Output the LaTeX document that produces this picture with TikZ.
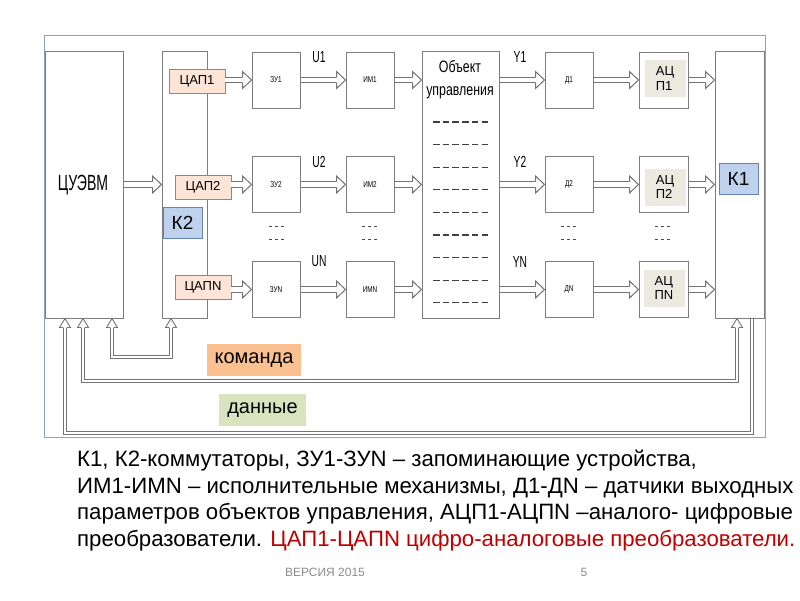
\documentclass[tikz,border=0pt]{standalone}
\usepackage{fontspec}
\setmainfont{Liberation Sans}
\newfontfamily\narrowfont[FakeStretch=0.75]{Liberation Sans}
\newfontfamily\xnarrowfont[FakeStretch=0.64]{Liberation Sans}
\definecolor{framecol}{RGB}{140,160,192}
\definecolor{boxline}{RGB}{125,125,125}
\definecolor{arrline}{RGB}{115,115,115}
\definecolor{dacfill}{RGB}{252,228,214}
\definecolor{dacline}{RGB}{120,140,170}
\definecolor{kfill}{RGB}{190,210,238}
\definecolor{kline}{RGB}{100,130,175}
\definecolor{adcfill}{RGB}{236,234,224}
\definecolor{cmdfill}{RGB}{250,192,144}
\definecolor{datfill}{RGB}{215,228,189}
\definecolor{redtext}{RGB}{192,0,0}
\definecolor{footcol}{RGB}{140,140,140}
\tikzset{
  blk/.style={draw=boxline, line width=1pt, fill=white, inner sep=0pt},
  smalllbl/.style={font=\narrowfont\fontsize{8.5}{10}\selectfont},
  daclbl/.style={draw=dacline, line width=0.8pt, fill=dacfill, inner sep=0pt,
    minimum width=56pt, minimum height=24pt, font=\fontsize{13}{15}\selectfont},
  klbl/.style={draw=kline, line width=0.8pt, fill=kfill, inner sep=0pt,
    minimum width=39pt, minimum height=31pt, font=\fontsize{19}{21}\selectfont},
  adclbl/.style={fill=adcfill, inner sep=0pt, minimum width=41pt, minimum height=37pt,
    align=left, font=\fontsize{13}{14.5}\selectfont},
  rowlbl/.style={font=\xnarrowfont\fontsize{16}{18}\selectfont},
  harr/.style={draw=arrline, line width=1pt, double=white, double distance=4.8pt, shorten >=9pt},
  bus/.style={draw=arrline, line width=0.9pt, double=white, double distance=2.4pt},
  objdash/.style={draw=black!75, line width=1.1pt, dash pattern=on 6.5pt off 3.2pt},
  dotdash/.style={draw=black!70, line width=1pt, dash pattern=on 3pt off 3pt},
  infolbl/.style={inner sep=0pt, minimum height=32pt, font=\fontsize{20}{22}\selectfont},
  bodytext/.style={anchor=base west, inner sep=0pt, font=\fontsize{22.2}{26}\selectfont},
  foottext/.style={text=footcol, font=\fontsize{12}{14}\selectfont},
  rhead/.pic={\draw[draw=arrline, line width=1pt, fill=white]
    (-9,-2.9) -- (-9,-8.5) -- (0,0) -- (-9,8.5) -- (-9,2.9);},
  uhead/.pic={\draw[draw=arrline, line width=0.9pt, fill=white]
    (-1.65,9) -- (-5.5,9) -- (0,0) -- (5.5,9) -- (1.65,9);}
}
\begin{document}
\begin{tikzpicture}[x=1pt, y=-1pt]
\useasboundingbox (0,0) rectangle (800,600);
\fill[white] (0,0) rectangle (800,600);
\draw[framecol, line width=1pt] (44,35) rectangle (765,437);

% main blocks
\node[blk, minimum width=78pt, minimum height=267pt] (cuevm) at (84,184.5) {};
\node[font=\xnarrowfont\fontsize{22}{24}\selectfont] (cuevmtxt) at (83,185) {ЦУЭВМ};
\node[blk, minimum width=45pt, minimum height=267pt] (k2) at (184.5,184.5) {};
\node[blk, minimum width=77pt, minimum height=267pt] (obj) at (460.5,184.5) {};
\node[blk, minimum width=49pt, minimum height=267pt] (k1) at (739.5,184.5) {};

\node[align=center, font=\narrowfont\fontsize{16.5}{23}\selectfont] (objtxt) at (460,80) {Объект\\управления};
\foreach \yy in {122,144.6,167.2,189.8,212.4,235,257.6,280.2,302.8}
  \draw[objdash] (433,\yy) -- (489,\yy);

% DAC labels on K2
\node[daclbl] (dac1) at (197,81) {ЦАП1};
\node[daclbl] (dac2) at (203,187) {ЦАП2};
\node[daclbl] (dacN) at (203,287.5) {ЦАПN};
\node[klbl] (k2lbl) at (182.5,222.5) {К2};
\node[klbl] (k1lbl) at (738.5,178.5) {К1};

% rows
\foreach \r/\yy in {1/80,2/184.5,N/289.5}{
  \node[blk, minimum width=48pt, minimum height=56pt, smalllbl] (zu\r) at (276,\yy) {ЗУ\r};
  \node[blk, minimum width=48pt, minimum height=56pt, smalllbl] (im\r) at (370,\yy) {ИМ\r};
  \node[blk, minimum width=48pt, minimum height=56pt, smalllbl] (d\r) at (569,\yy) {Д\r};
  \node[blk, minimum width=49pt, minimum height=56pt] (adc\r) at (663.5,\yy) {};
}
\node[adclbl] (adc1lbl) at (665,78.5) {АЦ\\П1};
\node[adclbl] (adc2lbl) at (665,187) {АЦ\\П2};
\node[adclbl] (adcNlbl) at (664,288) {АЦ\\ПN};

% row labels
\node[rowlbl] (u1) at (319,57) {U1};
\node[rowlbl] (u2) at (319,161.5) {U2};
\node[rowlbl] (uN) at (319,261) {UN};
\node[rowlbl] (y1) at (520,57) {Y1};
\node[rowlbl] (y2) at (520,161.5) {Y2};
\node[rowlbl] (yN) at (520,262) {YN};

% dots between rows
\foreach \xx in {277,370,569,663}{
  \draw[dotdash] (\xx-8,226) -- (\xx+7,226);
  \draw[dotdash] (\xx-8,239) -- (\xx+7,239);
}

% arrows
\draw[harr] (cuevm.east) -- (k2.west); \pic at (k2.west) {rhead};
\foreach \r in {1,2,N}{
  \draw[harr] (zu\r.west -| dac\r.east) -- (zu\r.west); \pic at (zu\r.west) {rhead};
  \draw[harr] (zu\r.east) -- (im\r.west); \pic at (im\r.west) {rhead};
  \draw[harr] (im\r.east) -- (im\r.east -| obj.west); \pic at (im\r.east -| obj.west) {rhead};
  \draw[harr] (d\r.west -| obj.east) -- (d\r.west); \pic at (d\r.west) {rhead};
  \draw[harr] (d\r.east) -- (adc\r.west); \pic at (adc\r.west) {rhead};
  \draw[harr] (adc\r.east) -- (adc\r.east -| k1.west); \pic at (adc\r.east -| k1.west) {rhead};
}

% buses
\coordinate (kb1) at (112,357);
\coordinate (kb2) at (171,357);
\draw[bus, shorten <=9pt, shorten >=9pt] (kb1 |- cuevm.south) -- (kb1) -- (kb2) -- (kb2 |- k2.south);
\pic at (kb1 |- cuevm.south) {uhead};
\pic at (kb2 |- k2.south) {uhead};

\coordinate (cb1) at (83,381);
\coordinate (cb2) at (737,381);
\draw[bus, shorten <=9pt, shorten >=9pt] (cb1 |- cuevm.south) -- (cb1) -- (cb2) -- (cb2 |- k1.south);
\pic at (cb1 |- cuevm.south) {uhead};
\pic at (cb2 |- k1.south) {uhead};

\coordinate (db1) at (752,433);
\coordinate (db2) at (65,433);
\draw[bus, shorten >=9pt] (db1 |- k1.south) -- (db1) -- (db2) -- (db2 |- cuevm.south);
\pic at (db2 |- cuevm.south) {uhead};

\node[infolbl, fill=cmdfill, minimum width=94pt] (cmd) at (254,360) {команда};
\node[infolbl, fill=datfill, minimum width=87pt] (dat) at (262.5,410) {данные};

% text
\node[bodytext] (t1) at (77,466.5) {К1, К2-коммутаторы, ЗУ1-ЗУN – запоминающие устройства,};
\node[bodytext] (t2) at (77,493) {ИМ1-ИМN – исполнительные механизмы, Д1-ДN – датчики выходных};
\node[bodytext] (t3) at (77,519.5) {параметров объектов управления, АЦП1-АЦПN –аналого- цифровые};
\node[bodytext] (t4) at (77,546) {преобразователи. \textcolor{redtext}{ЦАП1-ЦАПN цифро-аналоговые преобразователи.}};

\node[foottext] (ver) at (325,572) {ВЕРСИЯ 2015};
\node[foottext] (pg) at (584,572) {5};
\end{tikzpicture}
\end{document}
